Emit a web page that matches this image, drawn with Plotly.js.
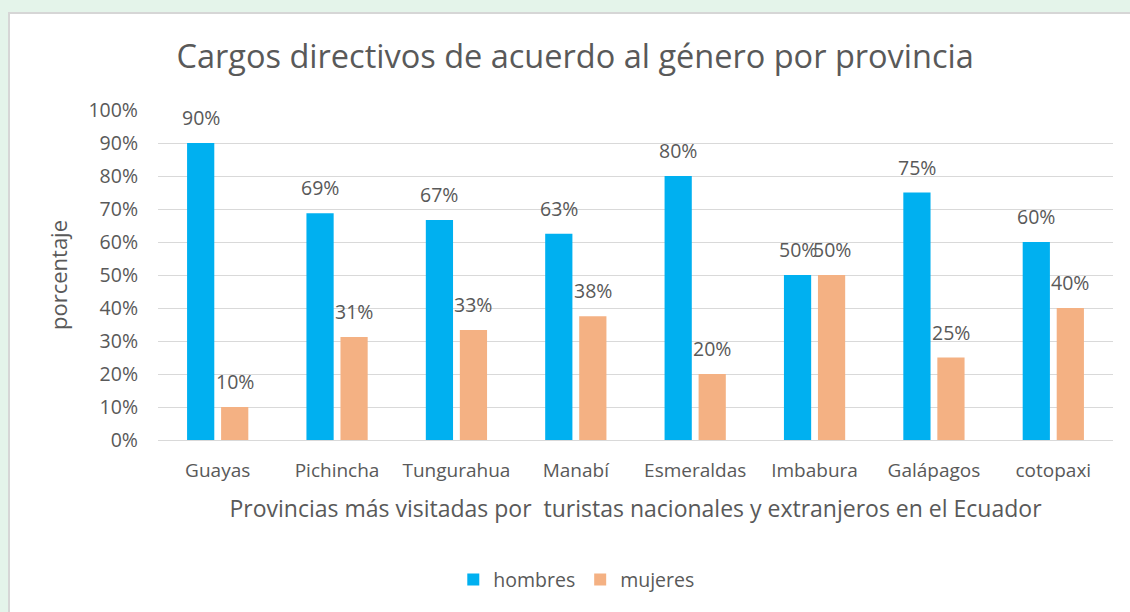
<!DOCTYPE html>
<html>
<head>
<meta charset="utf-8">
<script src="https://cdn.plot.ly/plotly-3.0.1.min.js"></script>
<style>
  html, body { margin:0; padding:0; width:1130px; height:612px; overflow:hidden; background:#e4f4ea; }
  #frame { position:absolute; left:8px; top:12px; width:1122px; height:600px; background:#ffffff;
           border-left:2px solid #d6d6d6; border-top:2px solid #d6d6d6; box-sizing:border-box; }
  #chart { position:absolute; left:0; top:0; width:1130px; height:612px; }
</style>
</head>
<body>
<div id="frame"></div>
<div id="chart"></div>
<script>
const categories = ["Guayas", "Pichincha", "Tungurahua", "Manabí", "Esmeraldas", "Imbabura", "Galápagos", "cotopaxi"];
const hombres = [90, 68.75, 66.67, 62.5, 80, 50, 75, 60];
const mujeres = [10, 31.25, 33.33, 37.5, 20, 50, 25, 40];
const yTickVals = [0, 10, 20, 30, 40, 50, 60, 70, 80, 90, 100];
const yTickText = ["0%", "10%", "20%", "30%", "40%", "50%", "60%", "70%", "80%", "90%", "100%"];

const FONT = "'Open Sans', 'Noto Sans', sans-serif";
const GRAY = "#595959";
const BARGAP = 0.43;
const off = (1 - BARGAP) / 4;

const traces = [
  { type: "bar", name: "hombres", x: categories, y: hombres, marker: { color: "#00B0F0" }, hoverinfo: "none" },
  { type: "bar", name: "mujeres", x: categories, y: mujeres, marker: { color: "#F4B183" }, hoverinfo: "none" }
];

const annotations = [];
hombres.forEach((v, i) => annotations.push({
  x: i - off, y: v, xref: "x", yref: "y", text: Math.round(v) + "%", showarrow: false,
  yanchor: "bottom", yshift: 10, font: { family: FONT, size: 19.5, color: GRAY }
}));
mujeres.forEach((v, i) => annotations.push({
  x: i + off, y: v, xref: "x", yref: "y", text: Math.round(v) + "%", showarrow: false,
  yanchor: "bottom", yshift: 10, font: { family: FONT, size: 19.5, color: GRAY }
}));

const layout = {
  width: 1130, height: 612,
  paper_bgcolor: "rgba(0,0,0,0)", plot_bgcolor: "rgba(0,0,0,0)",
  margin: { l: 158, r: 17, t: 110, b: 172 },
  barmode: "group", bargap: BARGAP, bargroupgap: 0.2,
  title: { text: "Cargos directivos de acuerdo al género por provincia", x: 0.509, xanchor: "center",
           y: 0.907, yanchor: "middle", font: { family: FONT, size: 32.5, color: GRAY } },
  xaxis: {
    type: "category", range: [-0.5, 7.5], showgrid: false, showline: false, ticks: "",
    tickfont: { family: FONT, size: 19, color: GRAY }, ticklabelstandoff: 17,
    title: { text: "Provincias más visitadas por  turistas nacionales y extranjeros en el Ecuador",
             font: { family: FONT, size: 23, color: GRAY }, standoff: 18 }
  },
  yaxis: {
    range: [0, 100], tickvals: yTickVals, ticktext: yTickText, showgrid: true, gridcolor: "#d9d9d9",
    gridwidth: 1, zeroline: true, zerolinecolor: "#d9d9d9", showline: false, ticks: "",
    tickfont: { family: FONT, size: 19.5, color: GRAY }, ticklabelstandoff: 19,
    title: { text: "porcentaje", font: { family: FONT, size: 22, color: GRAY }, standoff: 14 }
  },
  showlegend: true,
  legend: { orientation: "h", x: 0.438, xanchor: "center", y: -0.424, yanchor: "middle",
            font: { family: FONT, size: 19.5, color: GRAY }, traceorder: "normal", itemwidth: 30 },
  annotations: annotations
};

Plotly.newPlot("chart", traces, layout, { displayModeBar: false, staticPlot: true });
</script>
</body>
</html>
